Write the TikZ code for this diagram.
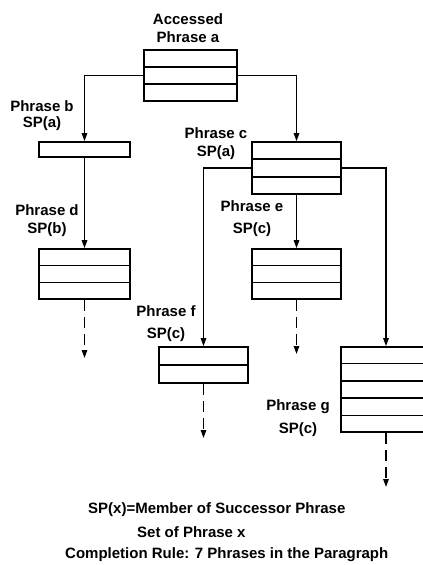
\documentclass[tikz,border=0pt]{standalone}
\usepackage{fontspec}
\setmainfont{Liberation Sans}
\usetikzlibrary{arrows.meta,positioning,calc}
\tikzset{
  phrasebox/.style={draw,line width=1.7pt,inner sep=0pt,minimum width=90pt},
  phraselabel/.style={font=\fontsize{15}{18}\selectfont\bfseries,align=center,inner sep=0pt},
  notelabel/.style={font=\fontsize{15}{18}\selectfont\bfseries,anchor=west,inner sep=0pt},
  linkarrow/.style={-{Triangle[length=8pt,width=5.5pt]},line width=1.4pt},
  nextarrow/.style={linkarrow,dash pattern=on 11pt off 6pt}
}

\begin{document}
\begin{tikzpicture}[x=1pt,y=-1pt]
  \useasboundingbox (0,0) rectangle (423,565);
  % phrase boxes
  \node[phrasebox,minimum width=93pt,minimum height=51pt] (a) at (190.5,75.5) {};
  \node[phrasebox,minimum width=91pt,minimum height=15pt] (b) at (84.5,149.5) {};
  \node[phrasebox,minimum width=89pt,minimum height=52pt] (c) at (296.5,168) {};
  \node[phrasebox,minimum width=91pt,minimum height=50pt] (d) at (84.5,274) {};
  \node[phrasebox,minimum width=89pt,minimum height=50pt] (e) at (296.5,274) {};
  \node[phrasebox,minimum width=89pt,minimum height=36pt] (f) at (203.5,365) {};
  \node[phrasebox,minimum width=90pt,minimum height=85pt] (g) at (386,389.5) {};
  % rows
  \foreach \n/\m in {a/2,c/2,d/2,e/2,f/1,g/4}
    \foreach \k in {1,...,\m}
      \draw[line width=1.7pt] ($(\n.north west)!{\k/(\m+1)}!(\n.south west)$)
        -- ($(\n.north east)!{\k/(\m+1)}!(\n.south east)$);

  % labels
  \node[phraselabel] (la) at (188,28) {Accessed\\Phrase a};
  \node[phraselabel] (lb) at (42,116) {Phrase b\\[-2pt]SP(a)};
  \node[phraselabel] (lc) at (216,143.5) {Phrase c\\SP(a)};
  \node[phraselabel] (ld) at (47,220.5) {Phrase d\\SP(b)};
  \node[phraselabel] (le) at (252,218.5) {Phrase e\\[4pt]SP(c)};
  \node[phraselabel] (lf) at (166,324) {Phrase f\\[4pt]SP(c)};
  \node[phraselabel] (lg) at (298,418.5) {Phrase g\\[5pt]SP(c)};

  % successor links
  \draw[linkarrow] (a.west) -| (b.north);
  \draw[linkarrow] (a.east) -| (c.north);
  \draw[linkarrow] (b.south) -- (d.north);
  \draw[linkarrow] (c.west) -| (f.north);
  \draw[linkarrow] (c.east) -| (g.north);
  \draw[linkarrow] (c.south) -- (e.north);

  % continuations
  \coordinate (dnext) at (84.5,358);
  \coordinate (enext) at (296.5,354);
  \coordinate (fnext) at (203.5,438);
  \coordinate (gnext) at (386,487);
  \foreach \n in {d,e,f,g}
    \draw[nextarrow] (\n.south) -- (\n next);

  % note
  \node[notelabel] (n1) at (88,510) {SP(x)=Member of Successor Phrase};
  \node[notelabel] (n2) at (137,532) {Set of Phrase x};
  \node[notelabel] (n3) at (65,555) {Completion Rule: 7 Phrases in the Paragraph};
\end{tikzpicture}
\end{document}
